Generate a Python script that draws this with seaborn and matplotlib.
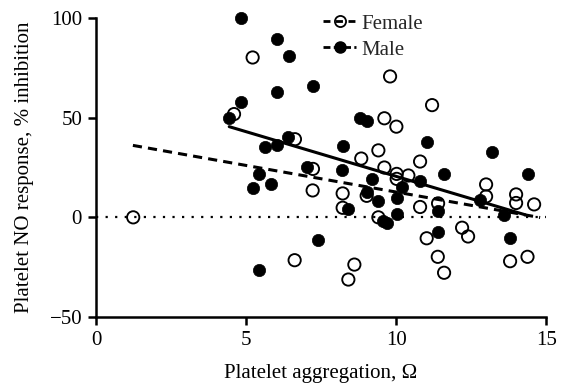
import matplotlib
matplotlib.use("Agg")
import matplotlib.pyplot as plt
from matplotlib.lines import Line2D
import seaborn as sns
import pandas as pd

# ---- data ----
female_x = [1.24, 5.22, 4.60, 6.63, 9.80, 11.20, 9.61, 10.01, 9.41, 8.84, 10.80,
            7.23, 7.22, 6.62, 9.61, 10.02, 10.02, 10.41, 8.22, 9.02, 8.22, 9.41,
            10.80, 11.40, 13.00, 13.00, 14.00, 14.00, 14.60, 12.20, 12.40, 11.02,
            11.39, 11.60, 13.80, 14.38, 8.61, 8.41]
female_y = [0.0, 80.2, 51.8, 39.2, 70.7, 56.3, 49.7, 45.5, 33.6, 29.5, 28.0,
            24.3, 13.5, -21.5, 25.0, 21.8, 19.3, 21.0, 12.0, 10.8, 4.8, 0.0,
            5.2, 7.0, 16.5, 10.5, 11.5, 7.2, 6.5, -5.2, -9.6, -10.5,
            -19.8, -27.8, -22.0, -19.8, -23.7, -31.2]

male_x = [4.83, 6.02, 6.42, 7.22, 6.02, 4.83, 4.44, 6.41, 6.02, 5.63, 8.80,
          9.02, 8.22, 11.02, 13.19, 5.43, 5.22, 5.82, 7.02, 7.41, 5.43, 8.21,
          9.19, 11.60, 10.19, 10.80, 9.02, 9.41, 10.02, 8.41, 9.55, 9.70,
          10.02, 11.40, 12.81, 13.60, 14.38, 11.40, 13.80]
male_y = [100.0, 89.3, 80.7, 66.0, 62.7, 57.7, 49.7, 40.2, 36.4, 35.2, 49.7,
          48.5, 36.0, 37.7, 32.7, 21.8, 14.8, 16.8, 25.2, -11.2, -26.2, 23.9,
          19.0, 21.8, 15.3, 18.0, 12.7, 8.3, 9.5, 4.3, -1.6, -3.0,
          1.5, 3.3, 8.8, 1.0, 21.8, -7.3, -10.5]

female_fit_x = [1.23, 14.80]
female_fit_y = [36.1, -0.1]
male_fit_x = [4.44, 14.30]
male_fit_y = [45.5, 1.3]

x_ticks = [0, 5, 10, 15]
y_ticks = [-50, 0, 50, 100]

# ---- figure ----
sns.set_theme(style="ticks")
plt.rcParams["font.family"] = ["Liberation Serif", "DejaVu Serif"]
plt.rcParams["mathtext.fontset"] = "stix"

fig = plt.figure(figsize=(5.63, 3.85), dpi=100)
ax = fig.add_axes([0.1705, 0.1766, 0.7995, 0.7766])

df_f = pd.DataFrame({"x": female_x, "y": female_y})
df_m = pd.DataFrame({"x": male_x, "y": male_y})

ax.axhline(0, color="black", lw=1.6, ls=(0, (1, 3.3)), zorder=1)

sns.scatterplot(data=df_f, x="x", y="y", ax=ax, s=78, marker="o",
                facecolor="none", edgecolor="black", linewidth=1.35, zorder=3,
                clip_on=False)
sns.scatterplot(data=df_m, x="x", y="y", ax=ax, s=78, marker="o",
                color="black", edgecolor="black", linewidth=0.5, zorder=4,
                clip_on=False)

sns.lineplot(x=female_fit_x, y=female_fit_y, ax=ax, color="black", lw=2.2,
             zorder=5)
ax.lines[-1].set_linestyle((0, (3, 2)))
sns.lineplot(x=male_fit_x, y=male_fit_y, ax=ax, color="black", lw=2.2,
             zorder=5)

ax.set_xlim(0, 15)
ax.set_ylim(-50, 100)
ax.set_xticks(x_ticks)
ax.set_yticks(y_ticks)
ax.set_yticklabels(["\u221250", "0", "50", "100"])
ax.tick_params(axis="both", direction="out", length=6, width=1.8,
               labelsize=15, color="black", labelcolor="black", pad=4)
for side in ["left", "bottom"]:
    ax.spines[side].set_linewidth(1.8)
    ax.spines[side].set_color("black")
sns.despine(ax=ax)

ax.set_xlabel("Platelet aggregation, \u03a9", fontsize=15, color="black", labelpad=10)
ax.set_ylabel("Platelet NO response, % inhibition", fontsize=15, color="black",
              labelpad=11)

handles = [
    Line2D([0], [0], color="black", lw=2, ls=(0, (2.5, 2)), marker="o",
           markerfacecolor="none", markeredgecolor="black", markersize=8,
           markeredgewidth=1.3),
    Line2D([0], [0], color="black", lw=2, ls=(0, (2.5, 1.2)), marker="o",
           markerfacecolor="black", markeredgecolor="black", markersize=8),
]
ax.legend(handles, ["Female", "Male"], loc="upper left",
          bbox_to_anchor=(0.495, 1.027), frameon=False, fontsize=15,
          handlelength=1.6, handletextpad=0.25, labelspacing=0.3,
          borderaxespad=0, borderpad=0.2)

fig.savefig("out.png", dpi=100)
